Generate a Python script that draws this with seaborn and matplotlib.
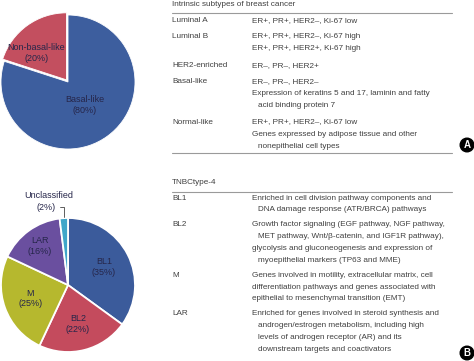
import numpy as np
import matplotlib
matplotlib.use("Agg")
import matplotlib.pyplot as plt
from matplotlib.patches import Circle
import seaborn as sns

# pie A: intrinsic subtypes within TNBC
intrinsic_names = ["Basal-like", "Non-basal-like"]
intrinsic_values = [80, 20]

# pie B: TNBCtype-4
tnbc_names = ["BL1", "BL2", "M", "LAR", "Unclassified"]
tnbc_values = [35, 22, 25, 16, 2]

# table A
table_a_title = "Intrinsic subtypes of breast cancer"
table_a_rows = ["Luminal A", "Luminal B", "HER2-enriched", "Basal-like", "Normal-like"]
table_a_desc = [
    [["ER+, PR+, HER2–, Ki-67 low"]],
    [["ER+, PR+, HER2–, Ki-67 high"], ["ER+, PR+, HER2+, Ki-67 high"]],
    [["ER–, PR–, HER2+"]],
    [["ER–, PR–, HER2–"], ["Expression of keratins 5 and 17, laminin and fatty", "acid binding protein 7"]],
    [["ER+, PR+, HER2–, Ki-67 low"], ["Genes expressed by adipose tissue and other", "nonepithelial cell types"]],
]

# table B
table_b_title = "TNBCtype-4"
table_b_rows = ["BL1", "BL2", "M", "LAR"]
table_b_desc = [
    [["Enriched in cell division pathway components and", "DNA damage response (ATR/BRCA) pathways"]],
    [["Growth factor signaling (EGF pathway, NGF pathway,", "MET pathway, Wnt/β-catenin, and IGF1R pathway),"],
     ["glycolysis and gluconeogenesis and expression of", "myoepithelial markers (TP63 and MME)"]],
    [["Genes involved in motility, extracellular matrix, cell"], ["differentiation pathways and genes associated with"],
     ["epithelial to mesenchymal transition (EMT)"]],
    [["Enriched for genes involved in steroid synthesis and", "androgen/estrogen metabolism, including high",
      "levels of androgen receptor (AR) and its", "downstream targets and coactivators"]],
]

sns.set_theme(style="white")
plt.rcParams["font.family"] = ["Liberation Sans", "DejaVu Sans"]

pal_a = sns.color_palette(["#3d5e9e", "#c34f5f"])
pal_b = sns.color_palette(["#3b5b9b", "#c44b5d", "#b6b82e", "#6a4f9f", "#3fa6c9"])
txt = "#404040"
lab = "#26264a"
fs = 5.9
fs_pie = 6.5

W, H = 474, 361
fig = plt.figure(figsize=(W / 100, H / 100), dpi=100)
tab = fig.add_axes([0, 0, 1, 1])
tab.set_xlim(0, W)
tab.set_ylim(H, 0)
tab.axis("off")


def pie_axes(cx, cy, r, lim=1.5):
    ax = fig.add_axes([(cx - lim * r) / W, 1 - (cy + lim * r) / H, 2 * lim * r / W, 2 * lim * r / H])
    return ax, lim


def wedge_label(ax, w, text, dist, shift=0):
    ang = np.deg2rad((w.theta1 + w.theta2) / 2 + shift)
    cx, cy = w.center
    ax.text(cx + dist * np.cos(ang), cy + dist * np.sin(ang), text, ha="center", va="center",
            fontsize=fs_pie, color=lab, linespacing=1.25)


# ---- pie A
ax1, lim = pie_axes(68, 82, 67)
w1, _ = ax1.pie(intrinsic_values, colors=pal_a, startangle=90, counterclock=False,
                explode=[0, 0.04], wedgeprops=dict(edgecolor="white", linewidth=0.6))
ax1.set_xlim(-lim, lim)
ax1.set_ylim(-lim, lim)
ax1.axis("off")
wedge_label(ax1, w1[0], "Basal-like\n(80%)", 0.42)
wedge_label(ax1, w1[1], "Non-basal-like\n(20%)", 0.6, shift=12)

# ---- pie B
ax2, lim = pie_axes(68, 285, 67)
w2, _ = ax2.pie(tnbc_values, colors=pal_b, startangle=90, counterclock=False,
                wedgeprops=dict(edgecolor="white", linewidth=1.3))
ax2.set_xlim(-lim, lim)
ax2.set_ylim(-lim, lim)
ax2.axis("off")
dists = [0.6, 0.6, 0.6, 0.72]
for w, n, v, d in zip(w2[:4], tnbc_names[:4], tnbc_values[:4], dists):
    wedge_label(ax2, w, f"{n}\n({v}%)", d)
wu = w2[4]
a = np.deg2rad((wu.theta1 + wu.theta2) / 2)
tip = (np.cos(a), np.sin(a))
ax2.annotate(f"({tnbc_values[4]}%)", xy=tip, xytext=(-13, 8), textcoords="offset points",
             ha="center", va="center", fontsize=fs_pie, color=lab, annotation_clip=False,
             arrowprops=dict(arrowstyle="-", connectionstyle="angle,angleA=0,angleB=90,rad=0",
                             shrinkA=1, shrinkB=1, lw=0.6, color="#444444"))
ax2.annotate(tnbc_names[4], xy=tip, xytext=(-11, 16), textcoords="offset points",
             ha="center", va="center", fontsize=fs_pie, color=lab, annotation_clip=False)


# ---- tables
def draw_table(title, y_title, y_rule, rows, desc, y0, lh, gap, y_end=None):
    x1, x2, xr = 172, 252, 452
    tab.text(x1, y_title, title, ha="left", va="center", fontsize=fs, color=txt)
    tab.plot([x1, xr], [y_rule, y_rule], color="#9a9a9a", lw=0.8)
    y = y0
    for name, items in zip(rows, desc):
        tab.text(x1, y, name, ha="left", va="center", fontsize=fs, color=txt)
        k = 0
        for item in items:
            for j, line in enumerate(item):
                tab.text(x2 + (6 if j else 0), y + k * lh, line, ha="left", va="center",
                         fontsize=fs, color=txt)
                k += 1
        y += k * lh + gap
    if y_end is not None:
        tab.plot([x1, xr], [y_end, y_end], color="#9a9a9a", lw=0.8)


draw_table(table_a_title, 4, 12.5, table_a_rows, table_a_desc, 20.5, 12.1, 4.2, y_end=152.5)
draw_table(table_b_title, 183, 191.5, table_b_rows, table_b_desc, 198, 11.8, 3.2)

for letter, cy in [("A", 145), ("B", 353)]:
    tab.add_patch(Circle((467, cy), 6.8, color="black"))
    tab.text(467, cy + 0.3, letter, ha="center", va="center", fontsize=7, color="white", fontweight="bold")

fig.savefig("out.png", dpi=100)
